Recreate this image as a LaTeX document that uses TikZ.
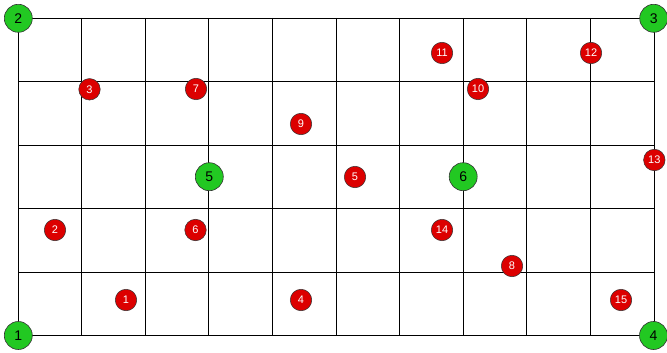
\documentclass[tikz,border=0pt]{standalone}
\usepackage{fontspec}
\setmainfont{Liberation Sans}
\definecolor{gnode}{RGB}{34,200,34}
\definecolor{rnode}{RGB}{220,0,0}
\begin{document}
\begin{tikzpicture}[x=1pt,y=-1pt,
  gridline/.style={draw=black,line width=0.9pt},
  depot/.style={circle,draw=black!80,line width=0.6pt,fill=gnode,minimum size=28pt,inner sep=0pt,font=\fontsize{14}{16}\selectfont,text=black},
  cust/.style={circle,draw=black!80,line width=0.5pt,fill=rnode,minimum size=21.5pt,inner sep=0pt,font=\fontsize{11}{13}\selectfont,text=white}]
\useasboundingbox (0,0) rectangle (667,353);
\foreach \x in {18,81.6,145.2,208.8,272.4,336,399.6,463.2,526.8,590.4,654}
  \draw[gridline] (\x,18) -- (\x,335.5);
\foreach \y in {18,81.5,145,208.5,272,335.5}
  \draw[gridline] (18,\y) -- (654,\y);
\node[depot] (g1) at (18.3,335.5) {1};
\node[depot] (g2) at (18.3,18.3) {2};
\node[depot] (g3) at (653.7,18.3) {3};
\node[depot] (g4) at (653.5,335.5) {4};
\node[depot] (g5) at (209.3,176.7) {5};
\node[depot] (g6) at (463.2,176.7) {6};
\node[cust] (c1) at (126,300) {1};
\node[cust] (c2) at (55,230) {2};
\node[cust] (c3) at (89.5,89.3) {3};
\node[cust] (c4) at (301,300) {4};
\node[cust] (c5) at (355,177) {5};
\node[cust] (c6) at (195.5,230) {6};
\node[cust] (c7) at (196,89) {7};
\node[cust] (c8) at (512,266) {8};
\node[cust] (c9) at (301,124) {9};
\node[cust] (c10) at (478,89) {10};
\node[cust] (c11) at (442,53) {11};
\node[cust] (c12) at (591,53) {12};
\node[cust] (c13) at (654.3,160) {13};
\node[cust] (c14) at (442,230) {14};
\node[cust] (c15) at (621,300) {15};
\end{tikzpicture}
\end{document}
